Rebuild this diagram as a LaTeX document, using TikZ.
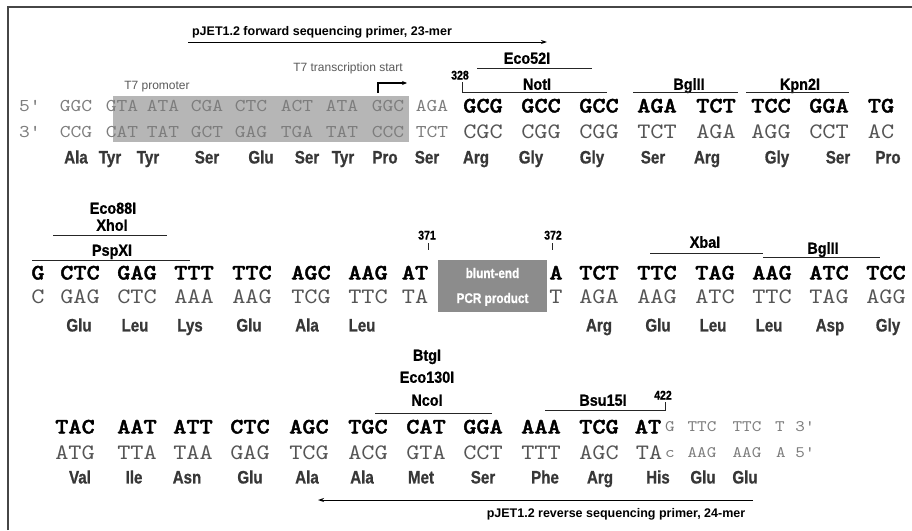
\documentclass[tikz,border=0pt]{standalone}
\usepackage{fontspec}
\usetikzlibrary{arrows.meta}
\newfontfamily\seqfont[FakeStretch=1.14,BoldFont=lmmonolt10-bold.otf,BoldFeatures={FakeBold=1.8}]{lmmono10-regular.otf}
\newfontfamily\labfont[FakeStretch=0.9,BoldFeatures={FakeBold=0.8}]{Liberation Sans}
\newfontfamily\aafont[FakeStretch=0.84,BoldFeatures={FakeBold=0.8}]{Liberation Sans}
\newfontfamily\primfont{Liberation Sans}
\definecolor{boxgray}{RGB}{182,182,182}
\definecolor{pcrgray}{RGB}{140,140,140}
\definecolor{light}{RGB}{125,125,125}
\definecolor{bot}{RGB}{85,85,85}
\definecolor{aacol}{RGB}{55,55,55}
\definecolor{framecol}{RGB}{70,70,70}
\definecolor{t7col}{RGB}{90,90,90}
\begin{document}
\begin{tikzpicture}[x=1pt,y=-1pt,
 every node/.style={inner sep=0pt, outer sep=0pt},
 topseq/.style={font=\seqfont\bfseries\fontsize{22}{22}\selectfont, text height=13pt, text depth=0pt},
 botseq/.style={font=\seqfont\fontsize{22}{22}\selectfont, text=bot, text height=13pt, text depth=0pt},
 ltseq/.style={font=\seqfont\fontsize{18}{18}\selectfont, text=light, text height=11pt, text depth=0pt},
 smseq/.style={font=\seqfont\fontsize{16}{16}\selectfont, text=light, text height=9.8pt, text depth=0pt},
 aa/.style={font=\aafont\bfseries\fontsize{18}{18}\selectfont, text=aacol, text height=12.9pt, text depth=0pt},
 enz/.style={font=\labfont\bfseries\fontsize{16}{16}\selectfont, text height=11.5pt, text depth=0pt},
 num/.style={font=\aafont\bfseries\fontsize{12.5}{12.5}\selectfont, text height=9pt, text depth=0pt},
 primer/.style={font=\primfont\bfseries\fontsize{12.5}{12.5}\selectfont, text height=9pt, text depth=0pt},
 t7/.style={font=\primfont\fontsize{12}{12}\selectfont, text=t7col, text height=8.6pt, text depth=0pt},
 site/.style={draw=black!85, line width=0.9pt},
 primarrow/.style={draw=black, line width=1pt, -{Stealth[length=6pt,width=4pt]}},
 pcrtext/.style={font=\aafont\bfseries\fontsize{14}{14}\selectfont, text=white, text height=10pt, text depth=0pt}
]
\useasboundingbox (0,0) rectangle (912,530);
\fill[white] (0,0) rectangle (912,530);
% frame
\draw[framecol, line width=2pt] (8,530) -- (8,7) -- (912,7);

% ---------------- Row 1 ----------------
\fill[boxgray] (113,96) rectangle (409,142);
\node[primer] (fwdlab) at (322,31) {pJET1.2 forward sequencing primer, 23-mer};
\coordinate (fwd0) at (188,42);
\coordinate (fwd1) at (547,42);
\draw[primarrow] (fwd0) -- (fwd1);
\node[t7] (t7prom) at (157,85) {T7 promoter};
\node[t7] (t7start) at (348,67) {T7 transcription start};
\coordinate (ts0) at (378,93);
\coordinate (ts1) at (378,83);
\coordinate (ts2) at (407,83);
\draw[draw=black, line width=1.2pt, -{Stealth[length=5pt,width=4pt]}] (ts0) -- (ts1) -- (ts2);

\node[enz] (eco52) at (527,58) {Eco52I};
\draw[site] (477,68) -- (592,68);
\node[num] (n328) at (460,75) {328};
\draw[site] (462,82) -- (462,92) -- (607,92);
\node[enz] (notI) at (537,84) {NotI};
\node[enz] (bgl1) at (689,84) {BglII};
\draw[site] (633,92) -- (738,92);
\node[enz] (kpn) at (800,84) {Kpn2I};
\draw[site] (746,92) -- (849,92);

\foreach \x/\t [count=\i] in {30/5',76/GGC,122/GTA,163/ATA,207/CGA,251/CTC,297/ACT,342/ATA,388/GGC,432/AGA}
  \node[ltseq] (ra\i) at (\x,106) {\t};
\foreach \x/\t [count=\i] in {30/3',76/CCG,122/CAT,163/TAT,207/GCT,251/GAG,297/TGA,342/TAT,388/CCC,432/TCT}
  \node[ltseq] (rb\i) at (\x,132) {\t};
\foreach \x/\t [count=\i] in {483/GCG,541/GCC,599/GCC,657/AGA,716/TCT,771/TCC,829/GGA,881/TG}
  \node[topseq] (rc\i) at (\x,106) {\t};
\foreach \x/\t [count=\i] in {483/CGC,541/CGG,599/CGG,657/TCT,716/AGA,771/AGG,829/CCT,881/AC}
  \node[botseq] (rd\i) at (\x,132) {\t};
\foreach \x/\t [count=\i] in {76/Ala,110/Tyr,148/Tyr,207/Ser,261/Glu,307/Ser,343/Tyr,385/Pro,427/Ser,476/Arg,531/Gly,592/Gly,653/Ser,707/Arg,777/Gly,838/Ser,888/Pro}
  \node[aa] (re\i) at (\x,157) {\t};

% ---------------- Row 2 ----------------
\node[enz] (eco88) at (113,208) {Eco88I};
\node[enz] (xho) at (112,225) {XhoI};
\draw[site] (53,235) -- (167,235);
\node[enz] (psp) at (112,250) {PspXI};
\draw[site] (32,260) -- (190,260);
\node[num] (n371) at (427,235) {371};
\draw[site, line width=0.6pt] (428,243) -- (428,250);
\node[num] (n372) at (553,235) {372};
\draw[site, line width=0.6pt] (552,243) -- (552,250);
\node[enz] (xba) at (705,242) {XbaI};
\draw[site] (650,253) -- (763,253);
\node[enz] (bgl2) at (823,248) {BglII};
\draw[site] (763,257) -- (880,257);

\fill[pcrgray] (438,260) rectangle (547,312);
\node[pcrtext] (blunt) at (492.5,273) {blunt-end};
\node[pcrtext] (pcr) at (492.5,298) {PCR product};

\foreach \x/\t [count=\i] in {38/G,80/CTC,137/GAG,194/TTT,252/TTC,311/AGC,368/AAG,415/AT,556/A,599/TCT,657/TTC,715/TAG,772/AAG,829/ATC,886/TCC}
  \node[topseq] (sa\i) at (\x,273) {\t};
\foreach \x/\t [count=\i] in {38/C,80/GAG,137/CTC,194/AAA,252/AAG,311/TCG,368/TTC,415/TA,556/T,599/AGA,657/AAG,715/ATC,772/TTC,829/TAG,886/AGG}
  \node[botseq] (sb\i) at (\x,297) {\t};
\foreach \x/\t [count=\i] in {79/Glu,135/Leu,190/Lys,249/Glu,307/Ala,362/Leu,599/Arg,658/Glu,713/Leu,769/Leu,830/Asp,888/Gly}
  \node[aa] (sc\i) at (\x,325) {\t};

% ---------------- Row 3 ----------------
\node[enz] (btg) at (427,355) {BtgI};
\node[enz] (eco130) at (427,377) {Eco130I};
\node[enz] (nco) at (427,400) {NcoI};
\draw[site] (375,413) -- (492,413);
\node[enz] (bsu) at (603,400) {Bsu15I};
\node[num] (n422) at (663,395) {422};
\draw[site] (545,410) -- (665,410) -- (665,402);

\foreach \x/\t [count=\i] in {75/TAC,137/AAT,193/ATT,250/CTC,309/AGC,368/TGC,426/CAT,483/GGA,541/AAA,599/TCG,648/AT}
  \node[topseq] (ta\i) at (\x,427) {\t};
\foreach \x/\t [count=\i] in {670/G,702/TTC,747/TTC,780/T,805/3'}
  \node[smseq] (tb\i) at (\x,427) {\t};
\foreach \x/\t [count=\i] in {75/ATG,137/TTA,193/TAA,250/GAG,309/TCG,368/ACG,426/GTA,483/CCT,541/TTT,599/AGC,649/TA}
  \node[botseq] (tc\i) at (\x,453) {\t};
\foreach \x/\t [count=\i] in {670/c,702/AAG,747/AAG,781/A,805/5'}
  \node[smseq] (td\i) at (\x,453) {\t};
\foreach \x/\t [count=\i] in {80/Val,134/Ile,187/Asn,250/Glu,307/Ala,362/Ala,421/Met,483/Ser,545/Phe,600/Arg,658/His,703/Glu,745/Glu}
  \node[aa] (te\i) at (\x,477) {\t};

\coordinate (rev0) at (753,500);
\coordinate (rev1) at (318,500);
\draw[primarrow] (rev0) -- (rev1);
\node[primer] (revlab) at (616,513) {pJET1.2 reverse sequencing primer, 24-mer};
\end{tikzpicture}
\end{document}
